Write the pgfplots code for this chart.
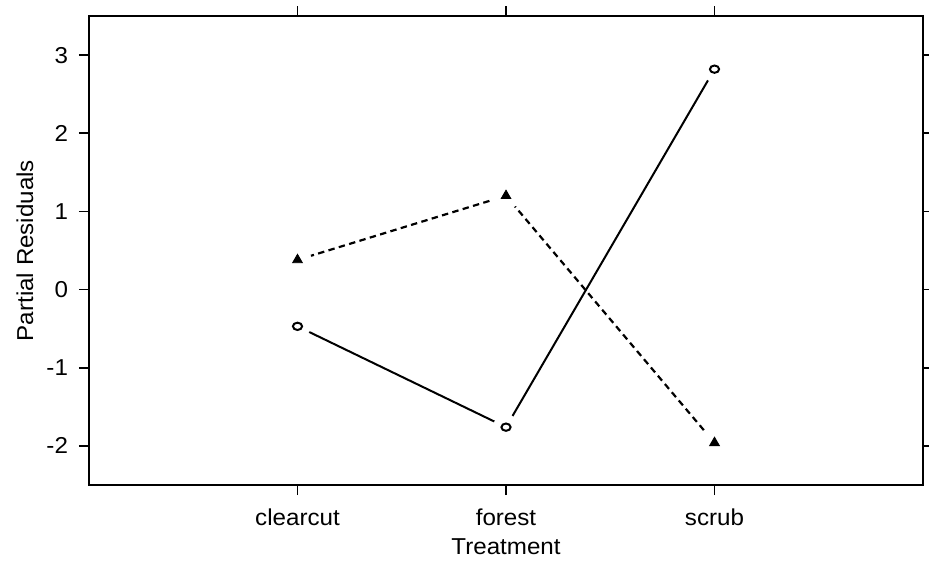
\documentclass[border=0pt]{standalone}
\usepackage{pgfplots}
\pgfplotsset{compat=1.18}
\usepackage{fontspec}
\setmainfont{Liberation Sans}[FakeStretch=1.05]
\begin{document}
\begin{tikzpicture}
\begin{axis}[
  scale only axis, width=417pt, height=234.5pt,
  xmin=-1, xmax=3, ymin=-2.5, ymax=3.5,
  xtick={0,1,2}, xticklabels={clearcut,forest,scrub},
  ytick={-2,-1,0,1,2,3},
  tick align=outside, major tick length=5pt,
  tick style={black, line width=0.8pt},
  axis line style={line width=1pt},
  /pgf/number format/assume math mode=true,
  tick label style={font=\fontsize{11.5}{13}\selectfont},
  label style={font=\fontsize{11.5}{13}\selectfont},
  x tick label style={anchor=base, yshift=-15pt},
  y tick label style={anchor=east, xshift=-2pt},
  xlabel={Treatment}, ylabel={Partial Residuals},
  xlabel style={at={([yshift=-34.5pt]axis description cs:0.5,0)}, anchor=base},
  ylabel style={at={([xshift=-32pt]axis description cs:0,0.5)}, anchor=center, rotate=0},
  clip=false,
]
% lines
\addplot[black, line width=1pt] coordinates {(0,-0.47) (1,-1.76) (2,2.82)};
\addplot[black, line width=1.1pt, dash pattern=on 3.2pt off 2.2pt] coordinates {(0,0.38) (1,1.20) (2,-1.96)};
% white halos to leave gaps like the reference
\addplot[only marks, mark=*, mark size=6.3pt, white, mark options={draw=white, fill=white}] coordinates {(0,-0.47) (1,-1.76) (2,2.82)};
\addplot[only marks, mark=*, mark size=6.8pt, white, mark options={draw=white, fill=white}] coordinates {(0,0.38) (1,1.20) (2,-1.96)};
% marks
\addplot[only marks, mark=o, mark size=2.3pt, black, mark options={line width=1pt, yscale=0.8}] coordinates {(0,-0.47) (1,-1.76) (2,2.82)};
\addplot[only marks, mark=triangle*, mark size=2.8pt, black] coordinates {(0,0.38) (1,1.20) (2,-1.96)};
\end{axis}
\pgfresetboundingbox
\path (-44.5pt,-39pt) rectangle (420pt,242.5pt);
\end{tikzpicture}
\end{document}
